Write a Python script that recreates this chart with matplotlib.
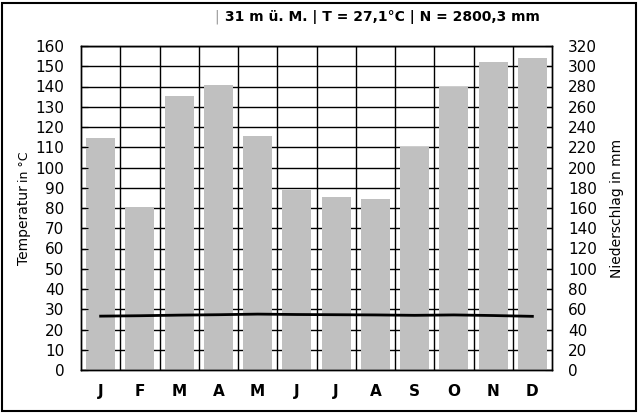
import matplotlib
matplotlib.use("Agg")
import matplotlib.pyplot as plt
from matplotlib.patches import Rectangle

months = ["J", "F", "M", "A", "M", "J", "J", "A", "S", "O", "N", "D"]
precip_mm = [229, 161, 271, 281, 231, 178, 171, 169, 220, 280, 304, 308]
temp_c = [26.6, 26.8, 27.1, 27.3, 27.6, 27.4, 27.3, 27.2, 27.0, 27.2, 26.9, 26.5]
title = "31 m ü. M. | T = 27,1°C | N = 2800,3 mm"

plt.rcParams['font.family'] = ['DejaVu Sans']

W, H = 639, 413
fig = plt.figure(figsize=(6.39, 4.13), dpi=100)
ax = fig.add_axes([81/W, 43/H, 471/W, 324/H])
axt = ax.twinx()
x = list(range(len(months)))

# primary axis: precipitation bars with grid below, ticks on the right
ax.set_xlim(-0.5, 11.5)
ax.set_ylim(0, 320)
ax.set_yticks(range(0, 321, 20))
ax.set_axisbelow(True)
ax.bar(x, precip_mm, width=0.74, color='#c0c0c0')
ax.set_xticks(x)
ax.set_xticklabels(months, fontweight='bold', fontsize=11)
ax.set_xticks([i + 0.5 for i in range(11)], minor=True)
ax.grid(True, axis='y', which='major', color='black', linewidth=1)
ax.grid(True, axis='x', which='minor', color='black', linewidth=1)
ax.tick_params(axis='x', which='both', length=0, pad=10)
ax.tick_params(axis='y', direction='in', length=5, labelsize=11, pad=11.5,
               left=True, right=True, labelleft=False, labelright=True)
ax.yaxis.set_label_position('right')
ax.set_ylabel("Niederschlag in mm", fontsize=10)
ax.yaxis.set_label_coords(1.124, 0.5)

# twin axis: temperature line on top, labels on the left
axt.set_ylim(0, 160)
axt.set_yticks(range(0, 161, 10))
axt.plot(x, temp_c, color='black', linewidth=2)
axt.tick_params(axis='y', direction='in', length=5, labelsize=11, pad=12,
                left=True, right=False, labelleft=True, labelright=False)

for a in (ax, axt):
    for s in a.spines.values():
        s.set_linewidth(1)

# left label with mixed sizes
r = fig.canvas.get_renderer()
t1 = fig.text(24/W, 0.5, "Temperatur", fontsize=10, rotation=90, ha='center', va='bottom')
t2 = fig.text(24/W, 0.5, "in °C", fontsize=9, rotation=90, ha='center', va='bottom')
h1 = t1.get_window_extent(r).height
h2 = t2.get_window_extent(r).height
gap = 3
y0 = (H - 208) - (h1 + gap + h2) / 2
t1.set_position((24/W, y0 / H))
t2.set_position((24/W, (y0 + h1 + gap) / H))

t = fig.text(540/W, 1 - 17/H, title, fontsize=10, fontweight='bold', va='center', ha='right')
bb = t.get_window_extent(r)
fig.text((bb.x0 - 6) / W, 1 - 17/H, "|", color='#999999', fontsize=10, va='center', ha='right')

fig.patches.append(Rectangle((2/W, 2/H), 634/W, 408/H, transform=fig.transFigure,
                             fill=False, edgecolor='black', linewidth=1.5))

fig.savefig("out.png", dpi=100)
